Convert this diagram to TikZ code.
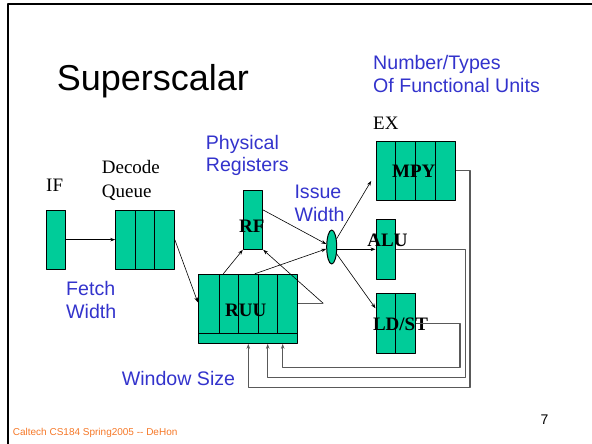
\documentclass[tikz,border=0pt]{standalone}
\usepackage{fontspec}
\setmainfont{Liberation Serif}
\newfontfamily\arial{Liberation Sans}
\usetikzlibrary{arrows.meta,shapes.geometric}
\definecolor{unitgreen}{RGB}{0,204,153}
\definecolor{noteblue}{RGB}{51,51,204}
\definecolor{footorange}{RGB}{245,120,40}
\tikzset{
  unit/.style={draw, fill=unitgreen, line width=1pt, inner sep=0pt},
  unitname/.style={inner sep=0pt, font=\bfseries\fontsize{19}{22}\selectfont},
  note/.style={inner sep=0pt, anchor=base west, align=left, text=noteblue, font=\arial\fontsize{19.6}{22.6}\selectfont},
  stage/.style={inner sep=0pt, anchor=base west, align=left, font=\fontsize{19}{24}\selectfont},
  fb/.style={draw=black!65, line width=1.2pt}
}
\begin{document}
\begin{tikzpicture}[x=1pt,y=-1pt,line join=round,>={Stealth[length=5pt,width=3.5pt]}]
	\useasboundingbox (0,0) rectangle (592,444);
	\draw[line width=2pt] (592,4.3) -- (7.8,4.3) -- (7.8,444);
	% boxes
	\node[unit, minimum width=19.7pt, minimum height=59.3pt] (if) at (55.85,239.65) {};
	\node[unit, minimum width=58.6pt, minimum height=59.3pt] (dq) at (145,239.65) {};
	\node[unit, minimum width=19.4pt, minimum height=58.6pt] (rf) at (253,220) {};
	\node[unit, minimum width=99pt, minimum height=69pt] (ruu) at (247.8,308.8) {};
	\node[unit, minimum width=79.7pt, minimum height=59.3pt] (mpy) at (415.85,170.65) {};
	\node[unit, minimum width=19.7pt, minimum height=60pt] (alu) at (385.85,249.3) {};
	\node[unit, minimum width=39.7pt, minimum height=60pt] (ldst) at (395.85,323.3) {};
	\node[unit, ellipse, minimum width=10pt, minimum height=34pt] (iss) at (331.7,247) {};
	% pipeline cells
	\foreach \x in {135,154.7} \draw[line width=1pt] (\x,210) -- (\x,269.3);
	\foreach \x in {219,238.7,258.3,277.7} \draw[line width=1pt] (\x,274.3) -- (\x,333.3);
	\draw[line width=1pt] (198.3,333.3) -- (297.3,333.3);
	\foreach \x in {395.7,415.7,435.7} \draw[line width=1pt] (\x,141) -- (\x,200.3);
	\draw[line width=1pt] (395.7,293.3) -- (395.7,353.3);
	% unit names
	\node[unitname] (rfname) at (251.7,226) {RF};
	\node[unitname] (ruuname) at (245.8,310) {RUU};
	\node[unitname] (mpyname) at (413.8,171.7) {MPY};
	\node[unitname] (aluname) at (387.5,240.7) {ALU};
	\node[unitname] (ldstname) at (400.5,324) {LD/ST};
	% forward paths
	\draw[->,line width=0.6pt] (if) -- (dq);
	\draw[->,line width=0.6pt] (dq.east) -- ([yshift=6.5pt]ruu.west);
	\draw[->,line width=0.6pt] ([xshift=-24.5pt]ruu.north) -- (rf.south west);
	\draw[->,line width=0.6pt] ([yshift=5.5pt]ruu.east) -- ++(25.4,0) -- (rf.south east);
	\draw[->,line width=0.6pt] ([yshift=10pt]rf.east) -- (iss);
	\draw[->,line width=0.6pt] ([xshift=7pt]ruu.north) -- (iss);
	\draw[->,line width=0.6pt] (iss) -- ([xshift=-4.3pt,yshift=-10.3pt]mpy.west);
	\draw[->,line width=0.6pt] (iss.east |- alu.west) -- (alu.west);
	\draw[->,line width=0.6pt] (iss) -- ([yshift=15pt]ldst.west);
	% results back to the RUU
	\foreach \u/\xr/\yb/\dx in {mpy/470/387.3/0.5, alu/465.3/377.3/19.9, ldst/460/367.7/34.9}
		\draw[fb,->] (\u.east) -| (\xr,\yb) -| ([xshift=\dx pt]ruu.south);
	% texts (multi-line ones sit on their last baseline)
	\node[inner sep=0pt, anchor=base west, font=\arial\fontsize{36}{40}\selectfont] (title) at (56.6,90.7) {Superscalar};
	\node[note] (fus) at (373,92.3) {Number/Types\\Of Functional Units};
	\node[note] (phys) at (205.7,171.7) {Physical\\Registers};
	\node[note] (issw) at (294.3,221) {Issue\\Width};
	\node[note] (fetchw) at (66,318.3) {Fetch\\Width};
	\node[note] (winsz) at (121.6,385) {Window Size};
	\node[stage] (ex) at (373,129.3) {EX};
	\node[stage] (ifname) at (46,191.7) {IF};
	\node[stage] (dqname) at (101.7,197.3) {Decode\\Queue};
	\node[inner sep=0pt, anchor=base west, text=footorange, font=\arial\fontsize{10}{12}\selectfont] (foot) at (12.7,435.7) {Caltech CS184 Spring2005 -- DeHon};
	\node[inner sep=0pt, anchor=base west, font=\arial\fontsize{14}{16}\selectfont] (page) at (540.3,424.7) {7};
\end{tikzpicture}
\end{document}
